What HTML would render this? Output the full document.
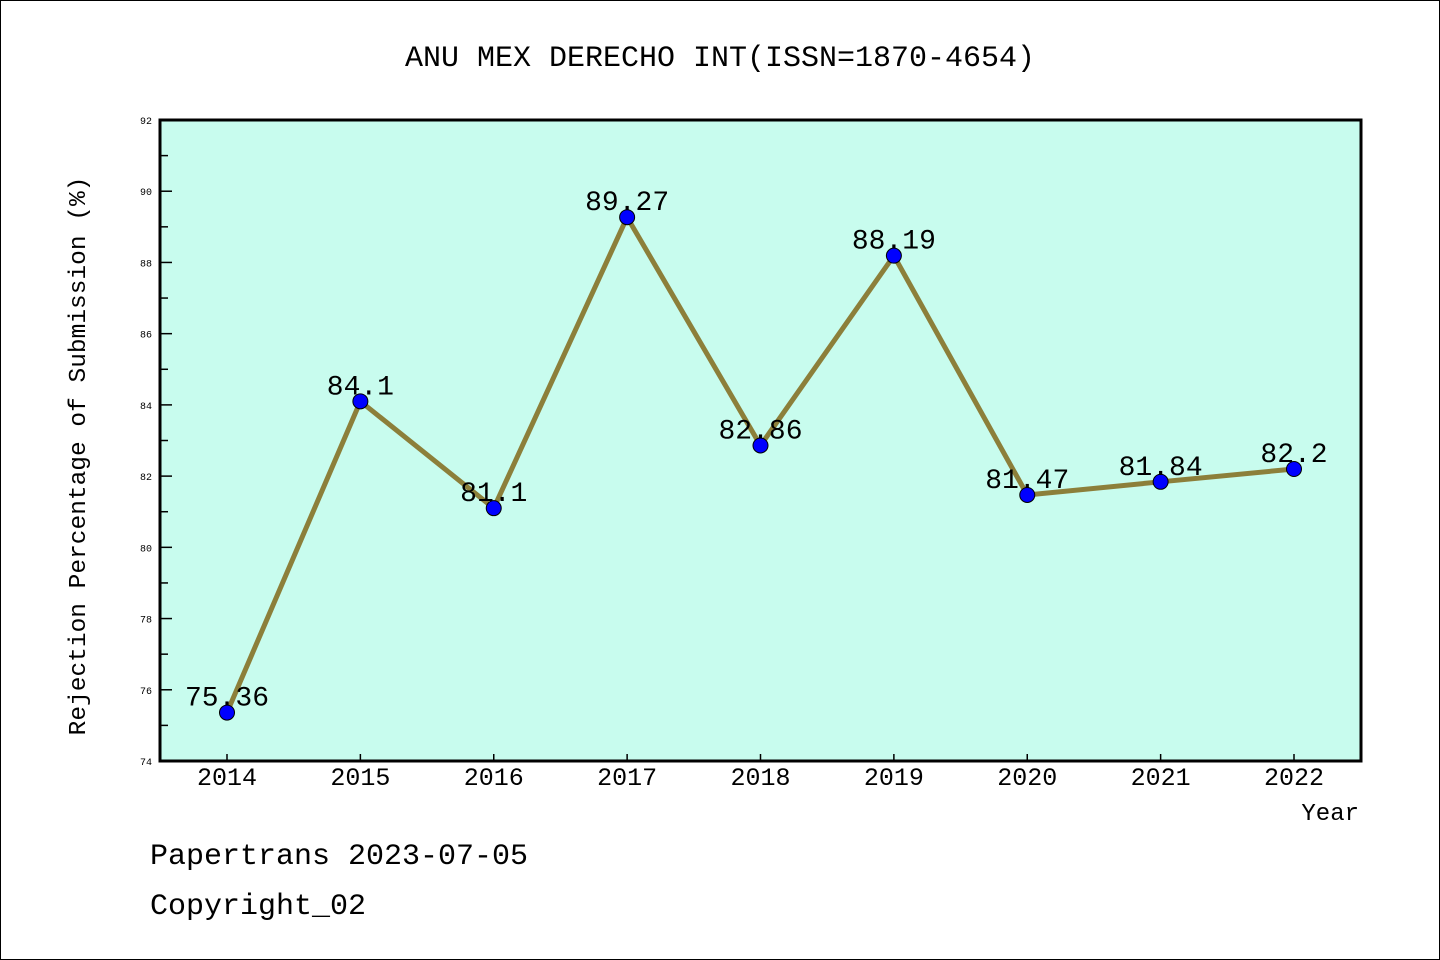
<!DOCTYPE html>
<html><head><meta charset="utf-8"><style>
html,body{margin:0;padding:0;background:#fff}
svg{display:block}
text{font-family:"Liberation Mono","WenQuanYi Zen Hei",monospace;fill:#000}
</style></head><body>
<svg width="1440" height="960" viewBox="0 0 1440 960">
<rect x="0.5" y="0.5" width="1439" height="959" fill="#fff" stroke="#000"/>
<text x="720" y="66" font-size="30" text-anchor="middle">ANU MEX DERECHO INT(ISSN=1870-4654)</text>
<rect x="160" y="120" width="1201" height="641" fill="#c8fcee"/>
<g id="axes"></g>
<g id="series"></g>
<rect x="160" y="120" width="1201" height="641" fill="none" stroke="#000" stroke-width="3"/>
<text transform="translate(85,456) rotate(-90)" font-size="24.5" text-anchor="middle">Rejection Percentage of Submission (%)</text>
<text x="1359" y="820" font-size="24" text-anchor="end">Year</text>
<text x="150" y="864" font-size="30">Papertrans 2023-07-05</text>
<text x="150" y="914" font-size="30">Copyright_02</text>
</svg>
<script>
const categories = ["2014","2015","2016","2017","2018","2019","2020","2021","2022"];
const values = [75.36, 84.1, 81.1, 89.27, 82.86, 88.19, 81.47, 81.84, 82.2];
const valueLabels = ["75.36","84.1","81.1","89.27","82.86","88.19","81.47","81.84","82.2"];
const yTicks = [74,76,78,80,82,84,86,88,90,92];

(function(){
const NS="http://www.w3.org/2000/svg";
const yMin=74,yMax=92,plotTop=120,plotBot=761,plotLeft=160;
const y=v=>plotBot-(v-yMin)/(yMax-yMin)*(plotBot-plotTop);
const x0=227,x1=1294;
const x=i=>x0+i*(x1-x0)/(categories.length-1);
function mk(tag,attrs,parent){const e=document.createElementNS(NS,tag);for(const k in attrs)e.setAttribute(k,attrs[k]);parent.appendChild(e);return e;}
const axes=document.getElementById('axes'), series=document.getElementById('series');

yTicks.forEach((t,i)=>{
  const l=mk('line',{x1:plotLeft,x2:plotLeft+12,y1:y(t),y2:y(t),stroke:'#000','stroke-width':1.5},axes);
  
  
  const tx=mk('text',{x:152,y:y(t)+4,'font-size':10,'text-anchor':'end'},axes);
  tx.textContent=t;
  
  
  if(i<yTicks.length-1){
    const m=mk('line',{x1:plotLeft,x2:plotLeft+8,y1:y(t+1),y2:y(t+1),stroke:'#000','stroke-width':1.5},axes);
    
    
  }
});
categories.forEach((c,i)=>{
  const l=mk('line',{x1:x(i),x2:x(i),y1:plotBot,y2:plotBot-7,stroke:'#000','stroke-width':1.5},axes);
  
  
  const tx=mk('text',{x:x(i),y:785,'font-size':25,'text-anchor':'middle'},axes);
  tx.textContent=c;
  
  
});
const pts=values.map((v,i)=>x(i)+','+y(v)).join(' ');
const pl=mk('polyline',{points:pts,fill:'none',stroke:'#8c7f3a','stroke-width':5,'stroke-linejoin':'miter'},series);


values.forEach((v,i)=>{
  const c=mk('circle',{cx:x(i),cy:y(v),r:7.5,fill:'#0000ff',stroke:'#000','stroke-width':1},series);
  
  
  const t=mk('text',{x:x(i),y:y(v)-7,'font-size':28,'text-anchor':'middle'},series);
  t.textContent=valueLabels[i];
  
  
});
})();
</script>
</body></html>
